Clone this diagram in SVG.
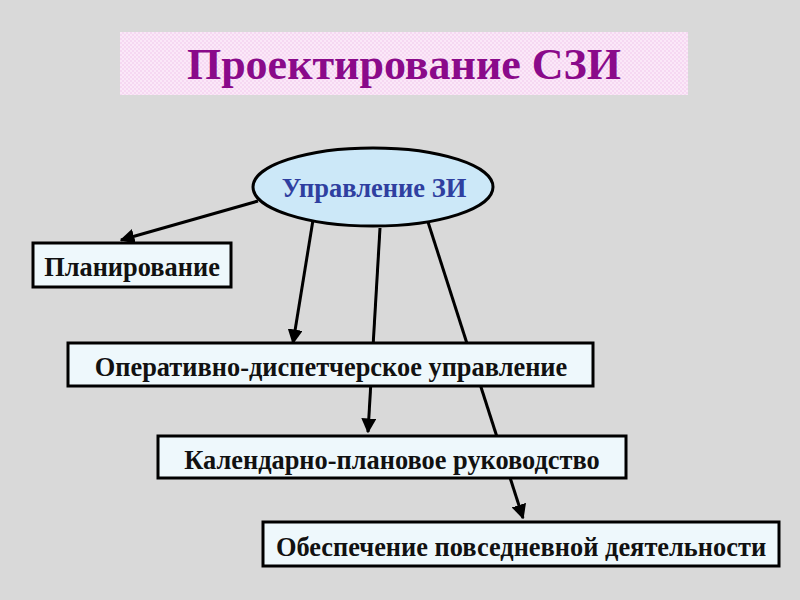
<svg xmlns="http://www.w3.org/2000/svg" width="800" height="600" viewBox="0 0 800 600">
<style>
.box{fill:#eef8fc;stroke:#000;stroke-width:3}
.lbl{font-family:"Liberation Serif",serif;font-weight:bold;font-size:26.4px;fill:#111;text-anchor:middle}
.con{stroke:#000;stroke-width:3;fill:none;marker-end:url(#ah)}
</style>
<defs>
<marker id="ah" viewBox="0 0 10 10" refX="9" refY="5" markerWidth="5" markerHeight="5" orient="auto" markerUnits="strokeWidth">
<path d="M0,0 L10,5 L0,10 z" fill="#000"/>
</marker>
<pattern id="pk" width="4" height="4" patternUnits="userSpaceOnUse">
<rect width="4" height="4" fill="#f6d8f2"/>
<rect width="2" height="2" fill="#fbe8f8"/>
<rect x="2" y="2" width="2" height="2" fill="#fbe8f8"/>
</pattern>
</defs>
<rect width="800" height="600" fill="#d9d9d9"/>
<g id="title">
<rect x="120" y="32" width="568" height="63" fill="url(#pk)"/>
<text x="404" y="79" font-family="Liberation Serif,serif" font-weight="bold" font-size="44" fill="#8a0a8a" text-anchor="middle">Проектирование СЗИ</text>
</g>
<g id="connectors">
<line class="con" x1="258" y1="201" x2="121" y2="240"/>
<line class="con" x1="313" y1="220" x2="293" y2="343"/>
<line class="con" x1="380" y1="228" x2="368" y2="432"/>
<line class="con" x1="428" y1="222" x2="523" y2="518"/>
</g>
<g id="root">
<ellipse cx="373" cy="187" rx="120" ry="39" fill="#cce8f8" stroke="#000" stroke-width="3"/>
<text x="374" y="197" font-family="Liberation Serif,serif" font-weight="bold" font-size="26.5" fill="#2f3fa0" text-anchor="middle">Управление ЗИ</text>
</g>
<g id="planning">
<rect class="box" x="33" y="243" width="198" height="44"/>
<text class="lbl" x="132" y="276">Планирование</text>
</g>
<g id="operative">
<rect class="box" x="68" y="343" width="525" height="43"/>
<text class="lbl" x="331" y="376">Оперативно-диспетчерское управление</text>
</g>
<g id="calendar">
<rect class="box" x="158" y="436" width="468" height="42"/>
<text class="lbl" x="392" y="469">Календарно-плановое руководство</text>
</g>
<g id="support">
<rect class="box" x="263" y="522" width="516" height="44"/>
<text class="lbl" x="521" y="556">Обеспечение повседневной деятельности</text>
</g>
</svg>
